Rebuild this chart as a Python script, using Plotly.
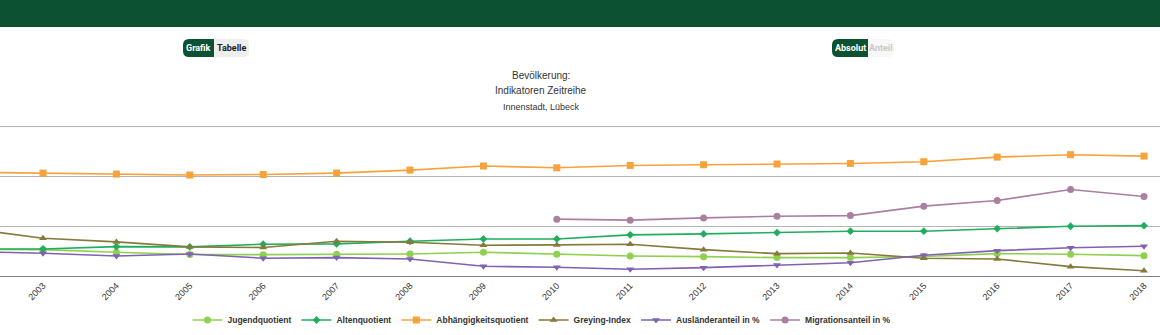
import plotly.graph_objects as go

# ---------------- data ----------------
years = list(range(2002, 2019))
tick_years = list(range(2003, 2019))
tick_labels = [str(y) for y in tick_years]

jugendquotient = [26.7, 26.5, 23.9, 21.7, 21.5, 21.9, 22.2, 23.9, 21.9, 20.2, 19.5, 18.5, 18.5, 19.7, 22.5, 21.9, 20.5]
altenquotient = [27.2, 27.2, 29.6, 29.3, 32.0, 32.3, 35.0, 37.3, 37.3, 41.4, 42.4, 43.7, 45.1, 45.1, 47.7, 50.1, 50.7]
abhaengigkeitsquotient = [104.5, 103.6, 102.6, 101.6, 102.2, 103.6, 106.6, 110.7, 108.9, 111.3, 112.0, 112.7, 113.3, 115.0, 119.7, 122.1, 120.7]
greying_index = [47.6, 38.0, 34.3, 29.3, 28.7, 35.0, 34.0, 31.0, 31.3, 32.0, 26.5, 22.5, 23.2, 17.9, 17.1, 9.4, 5.3]
auslaenderanteil = [24.6, 22.9, 20.2, 22.2, 17.9, 18.5, 17.1, 9.8, 8.8, 6.8, 8.4, 11.1, 13.4, 20.9, 25.5, 28.5, 30.0]
migrationsanteil = [None, None, None, None, None, None, None, None, 57.2, 56.2, 58.5, 60.2, 60.8, 70.3, 76.0, 87.1, 80.0]

series_names = ["Jugendquotient", "Altenquotient", "Abhängigkeitsquotient",
                "Greying-Index", "Ausländeranteil in %", "Migrationsanteil in %"]
series_values = [jugendquotient, altenquotient, abhaengigkeitsquotient,
                 greying_index, auslaenderanteil, migrationsanteil]
series_colors = ["#8fd14f", "#1fae5b", "#f7a23b", "#857a3c", "#7f62b2", "#a9809f"]
series_symbols = ["circle", "diamond", "square", "triangle-up", "triangle-down", "circle"]
series_sizes = [7, 6, 7, 7, 7, 7]

title_lines = ["Bevölkerung:", "Indikatoren Zeitreihe"]
subtitle = "Innenstadt, Lübeck"

W, H = 1160, 335
M_T, M_B = 124, 59
PLOT_H = H - M_T - M_B
BOTTOM = H - M_B


def px_x(px):
    return px / W


def px_y(py):
    return (BOTTOM - py) / PLOT_H


fig = go.Figure()
for name, vals, color, sym, size in zip(series_names, series_values, series_colors,
                                        series_symbols, series_sizes):
    fig.add_trace(go.Scatter(
        x=years, y=vals, name=name, mode="lines+markers",
        line=dict(color=color, width=1.6),
        marker=dict(symbol=sym, size=size, color=color),
        connectgaps=False, hoverinfo="skip",
    ))

shapes = []
annotations = []

# header band
shapes.append(dict(type="rect", xref="paper", yref="paper",
                   x0=0, x1=1, y0=px_y(27), y1=px_y(0),
                   fillcolor="#0b5132", line=dict(width=0), layer="above"))


def rounded(x0, x1, y0, y1, r, left, right, color):
    X0, X1 = px_x(x0), px_x(x1)
    Yt, Yb = px_y(y0), px_y(y1)
    rx = px_x(r)
    ry = r / PLOT_H
    p = []
    p.append(f"M {X0 + rx},{Yt}" if left else f"M {X0},{Yt}")
    if right:
        p.append(f"L {X1 - rx},{Yt} Q {X1},{Yt} {X1},{Yt - ry} L {X1},{Yb + ry} Q {X1},{Yb} {X1 - rx},{Yb}")
    else:
        p.append(f"L {X1},{Yt} L {X1},{Yb}")
    if left:
        p.append(f"L {X0 + rx},{Yb} Q {X0},{Yb} {X0},{Yb + ry} L {X0},{Yt - ry} Q {X0},{Yt} {X0 + rx},{Yt}")
    else:
        p.append(f"L {X0},{Yb}")
    p.append("Z")
    return dict(type="path", xref="paper", yref="paper", path=" ".join(p),
                fillcolor=color, line=dict(width=0), layer="above")


shapes.append(rounded(214, 249, 39, 57, 6, False, True, "#eeeeee"))
shapes.append(rounded(183, 214, 39, 57, 6, True, False, "#0b5132"))
shapes.append(rounded(868, 894, 39, 57, 6, False, True, "#f8f8f8"))
shapes.append(rounded(832, 868, 39, 57, 6, True, False, "#0b5132"))

btn_font = "Roboto, Liberation Sans, Arial, sans-serif"
for txt, cx, col in [("Grafik", 198.5, "#ffffff"), ("Tabelle", 231.5, "#222222"),
                     ("Absolut", 850, "#ffffff"), ("Anteil", 881, "#c8c8c8")]:
    annotations.append(dict(xref="paper", yref="paper", x=px_x(cx), y=px_y(48),
                            text=txt, showarrow=False, xanchor="center", yanchor="middle",
                            font=dict(family=btn_font, size=9, color=col, weight=700)))

title_font = "Liberation Sans, Arial, sans-serif"
for txt, cy, fs in [(title_lines[0], 75, 10), (title_lines[1], 90.5, 10), (subtitle, 107, 9)]:
    annotations.append(dict(xref="paper", yref="paper", x=px_x(541), y=px_y(cy),
                            text=txt, showarrow=False, xanchor="center", yanchor="middle",
                            font=dict(family=title_font, size=fs, color="#333333")))

fig.update_layout(
    width=W, height=H,
    margin=dict(l=0, r=0, t=M_T, b=M_B, pad=0),
    paper_bgcolor="white", plot_bgcolor="white",
    showlegend=True,
    legend=dict(orientation="h", x=px_x(542), xanchor="center",
                y=px_y(320), yanchor="middle",
                font=dict(family="Liberation Sans, Arial, sans-serif", size=8.5,
                          color="#333333", weight=700),
                itemwidth=30, bgcolor="rgba(0,0,0,0)", traceorder="normal"),
    xaxis=dict(range=[2002.414, 2018.218], tickmode="array", tickvals=tick_years,
               ticktext=tick_labels, tickangle=-45, showgrid=False, zeroline=False,
               showline=True, linecolor="#808080", linewidth=1, ticks="",
               tickfont=dict(family=title_font, size=9, color="#333333"),
               fixedrange=True),
    yaxis=dict(range=[0, 153], tickmode="array", tickvals=[0, 50, 100, 150],
               showticklabels=False, showgrid=True, gridcolor="#b4b4b4", gridwidth=1,
               zeroline=False, showline=False, ticks="", fixedrange=True),
    shapes=shapes,
    annotations=annotations,
    hovermode=False,
)

fig.write_html("out.html", config={"displayModeBar": False, "staticPlot": True})
